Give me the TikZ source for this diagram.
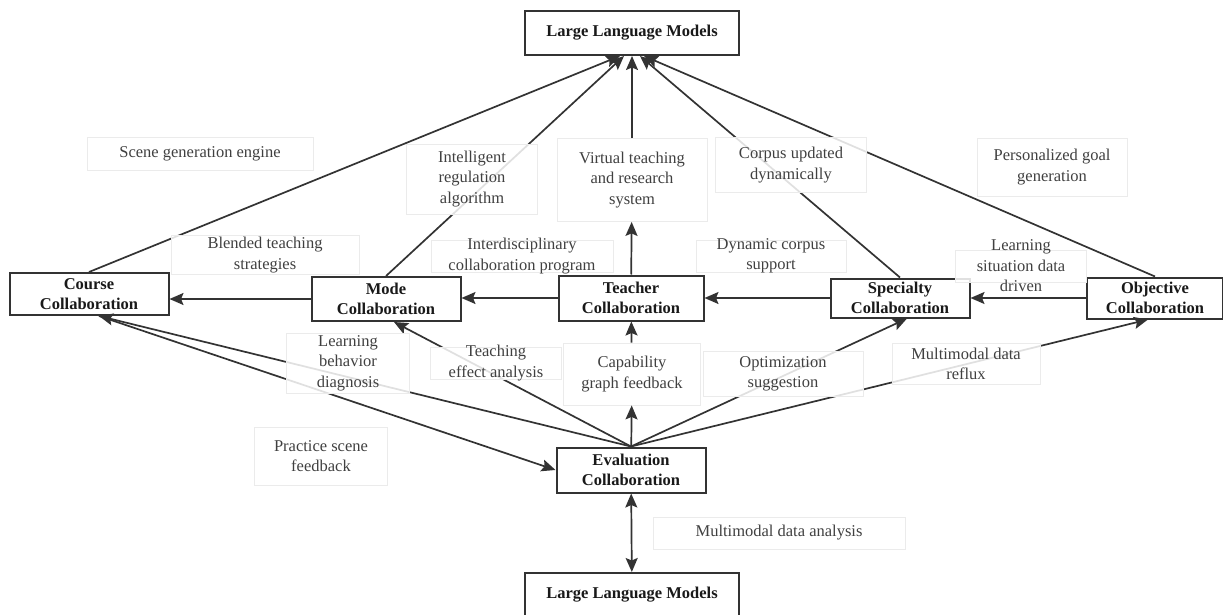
\documentclass[tikz,border=0pt]{standalone}
\usepackage{fontspec}
\setmainfont{Liberation Serif}
\usetikzlibrary{positioning,arrows.meta}

\begin{document}
\begin{tikzpicture}[x=1pt, y=-1pt, ->, >={Stealth[length=14pt,width=12pt,inset=2.5pt]},
every edge/.style={draw=black!80, line width=1.7pt},
mainbox/.style={rectangle, draw=black!80, line width=2pt, fill=white, align=center, text=black!90,
  font=\fontsize{16.5}{20.5}\selectfont\bfseries, inner sep=2pt},
labelbox/.style={rectangle, draw=black!8, line width=0.8pt, fill=white, fill opacity=0.85, text opacity=1,
  text=black!75, align=center, font=\fontsize{16.5}{20.5}\selectfont, inner sep=2pt}]
    \useasboundingbox (0,0) rectangle (1223,615);

    \node[mainbox, minimum width=214, minimum height=44] (llmtop) at (632,33) {Large Language Models};
    \node[mainbox, minimum width=159, minimum height=42] (course) at (89,294) {Course\\Collaboration};
    \node[mainbox, minimum width=149, minimum height=44] (mode) at (386,299) {Mode\\Collaboration};
    \node[mainbox, minimum width=145, minimum height=45] (teacher) at (631,298) {Teacher\\Collaboration};
    \node[mainbox, minimum width=139, minimum height=39] (specialty) at (900,298) {Specialty\\Collaboration};
    \node[mainbox, minimum width=136, minimum height=41] (objective) at (1155,298) {Objective\\Collaboration};
    \node[mainbox, minimum width=149, minimum height=45] (eval) at (631,470) {Evaluation\\Collaboration};
    \node[mainbox, minimum width=214, minimum height=44] (llmbot) at (632,595) {Large Language Models};

    \path
      (course.north) edge ([xshift=-12]llmtop.south)
      (mode.north) edge ([xshift=-8]llmtop.south)
      (specialty.north) edge ([xshift=8]llmtop.south)
      (objective.north) edge ([xshift=12]llmtop.south)
      (mode.west) edge (course.east |- mode.west)
      (teacher.west) edge (mode.east |- teacher.west)
      (specialty.west) edge (teacher.east |- specialty.west)
      (objective.west) edge (specialty.east |- objective.west)
      (eval.north) edge ([xshift=10]course.south)
      ([xshift=10]course.south) edge (eval.west)
      (eval.north) edge ([xshift=8]mode.south)
      (eval.north) edge ([xshift=7]specialty.south)
      (eval.north) edge ([xshift=-7]objective.south)
      (eval) edge[<->] (llmbot);

    \node[labelbox, minimum width=226, minimum height=33] (scene) at (200,154) {Scene generation engine};
    \node[labelbox, minimum width=188, minimum height=39] (blended) at (265,255) {Blended teaching\\strategies};
    \node[labelbox, minimum width=131, minimum height=70] (regul) at (472,179) {Intelligent\\regulation\\algorithm};
    \node[labelbox, minimum width=150, minimum height=83] (virtual) at (632,180) {Virtual teaching\\and research\\system};
    \node[labelbox, minimum width=151, minimum height=55] (corpus) at (791,165) {Corpus updated\\dynamically};
    \node[labelbox, minimum width=150, minimum height=58] (goal) at (1052,167) {Personalized goal\\generation};
    \node[labelbox, minimum width=182, minimum height=32, inner ysep=-1.7pt] (interdis) at (522,256) {Interdisciplinary\\collaboration program};
    \node[labelbox, minimum width=150, minimum height=32, inner ysep=-1.7pt] (dyncorpus) at (771,256) {Dynamic corpus\\support};
    \node[labelbox, minimum width=131, minimum height=32, inner ysep=-10pt] (situation) at (1021,266) {Learning\\situation data\\driven};
    \node[labelbox, minimum width=123, minimum height=60] (behavior) at (348,363) {Learning\\behavior\\diagnosis};
    \node[labelbox, minimum width=131, minimum height=32, inner ysep=-1.7pt] (effect) at (496,363) {Teaching\\effect analysis};
    \node[labelbox, minimum width=137, minimum height=62] (capab) at (632,374) {Capability\\graph feedback};
    \node[labelbox, minimum width=160, minimum height=45] (optim) at (783,374) {Optimization\\suggestion};
    \node[labelbox, minimum width=148, minimum height=41] (reflux) at (966,364) {Multimodal data\\reflux};
    \node[labelbox, minimum width=133, minimum height=58] (practice) at (321,456) {Practice scene\\feedback};
    \node[labelbox, minimum width=252, minimum height=32] (analysis) at (779,533) {Multimodal data analysis};

    \path
      (teacher) edge (virtual)
      (virtual) edge (llmtop)
      (eval) edge (capab)
      (capab) edge (teacher);
\end{tikzpicture}
\end{document}
